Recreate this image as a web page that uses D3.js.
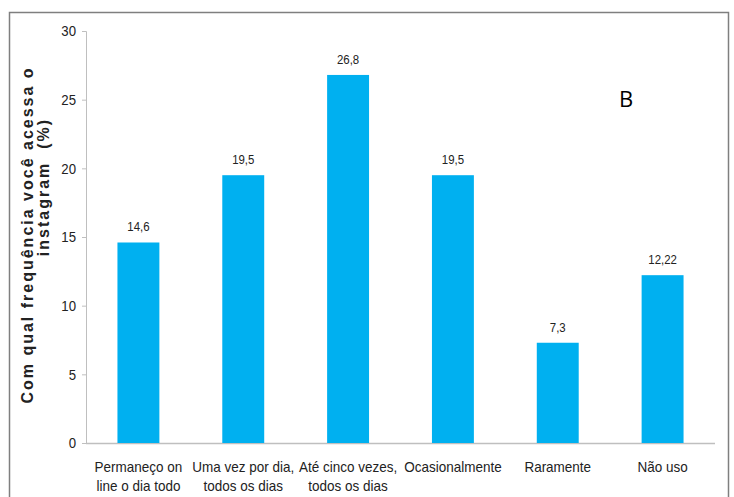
<!DOCTYPE html>
<html>
<head>
<meta charset="utf-8">
<script src="https://cdn.jsdelivr.net/npm/d3@7"></script>
<style>
  body { margin: 0; background: #fff; }
  svg { display: block; }
</style>
</head>
<body>
<svg id="chart" width="734" height="497"></svg>
<script>
// chart data
const categories = [
  ["Permaneço on", "line o dia todo"],
  ["Uma vez por dia,", "todos os dias"],
  ["Até cinco vezes,", "todos os dias"],
  ["Ocasionalmente"],
  ["Raramente"],
  ["Não uso"]
];
const values = [14.6, 19.5, 26.8, 19.5, 7.3, 12.22];
const valueLabels = ["14,6", "19,5", "26,8", "19,5", "7,3", "12,22"];
const yTicks = [0, 5, 10, 15, 20, 25, 30];
const yTitle = ["Com qual frequência você acessa o", "instagram  (%)"];

const svg = d3.select("#chart");
const narrow = 0.88; // condensed look of the original labels

// outer frame
svg.append("path")
  .attr("d", "M9.5,497 V12.5 H728.5 V497")
  .attr("fill", "none")
  .attr("stroke", "#7f7f7f")
  .attr("stroke-width", 1.5);

const plotLeft = 86, plotRight = 715, plotTop = 31, plotBottom = 443;

const x = d3.scaleBand()
  .domain(d3.range(values.length))
  .range([plotLeft, plotRight])
  .paddingInner(0.6)
  .paddingOuter(0.3);

const y = d3.scaleLinear().domain([0, 30]).range([plotBottom, plotTop]);
const cx = i => x(i) + x.bandwidth() / 2;

// y axis
const yAxis = svg.append("g")
  .attr("transform", `translate(${plotLeft},0)`)
  .call(d3.axisLeft(y).tickValues(yTicks).tickSize(4).tickPadding(6));
yAxis.select(".domain").attr("stroke", "#bfbfbf");
yAxis.selectAll(".tick line").attr("stroke", "#bfbfbf");
yAxis.selectAll("text")
  .attr("font-family", "Liberation Sans, Arial, sans-serif")
  .attr("font-size", 15)
  .attr("fill", "#222")
  .attr("transform", `scale(${narrow},1)`)
  .attr("x", -10 / narrow);

// x axis line
svg.append("line")
  .attr("x1", plotLeft).attr("x2", plotRight)
  .attr("y1", plotBottom + 0.5).attr("y2", plotBottom + 0.5)
  .attr("stroke", "#bfbfbf")
  .attr("stroke-width", 1.5);

// bars
svg.selectAll("rect.bar")
  .data(values)
  .join("rect")
  .attr("class", "bar")
  .attr("x", (d, i) => x(i))
  .attr("width", x.bandwidth())
  .attr("y", d => y(d))
  .attr("height", d => plotBottom - y(d))
  .attr("fill", "#00b0f0");

// value labels
svg.selectAll("text.val")
  .data(values)
  .join("text")
  .attr("class", "val")
  .attr("transform", (d, i) => `translate(${cx(i)},${y(d) - 11}) scale(${narrow},1)`)
  .attr("text-anchor", "middle")
  .attr("font-family", "Liberation Sans, Arial, sans-serif")
  .attr("font-size", 13)
  .attr("fill", "#222")
  .text((d, i) => valueLabels[i]);

// category labels
const catG = svg.selectAll("text.cat")
  .data(categories)
  .join("text")
  .attr("class", "cat")
  .attr("transform", (d, i) => `translate(${cx(i)},0) scale(0.9,1)`)
  .attr("text-anchor", "middle")
  .attr("font-family", "Liberation Sans, Arial, sans-serif")
  .attr("font-size", 15)
  .attr("fill", "#222");
catG.selectAll("tspan")
  .data(d => d)
  .join("tspan")
  .attr("x", 0)
  .attr("y", (d, j) => 472 + j * 19)
  .text(d => d);

// y title
const yt = svg.append("text")
  .attr("transform", "translate(0,235) rotate(-90)")
  .attr("text-anchor", "middle")
  .attr("font-family", "Liberation Sans, Arial, sans-serif")
  .attr("font-weight", "bold")
  .attr("font-size", 16)
  .attr("letter-spacing", 2)
  .attr("fill", "#222")
  .style("white-space", "pre");
yt.selectAll("tspan")
  .data(yTitle)
  .join("tspan")
  .attr("x", (d, i) => i === 0 ? 0 : 48)
  .attr("y", (d, i) => 33 + i * 16)
  .text(d => d);

// panel letter
svg.append("text")
  .attr("x", 619)
  .attr("y", 107)
  .attr("font-family", "Open Sans, DejaVu Sans, sans-serif")
  .attr("font-size", 22)
  .attr("fill", "#000")
  .text("B");
</script>
</body>
</html>
